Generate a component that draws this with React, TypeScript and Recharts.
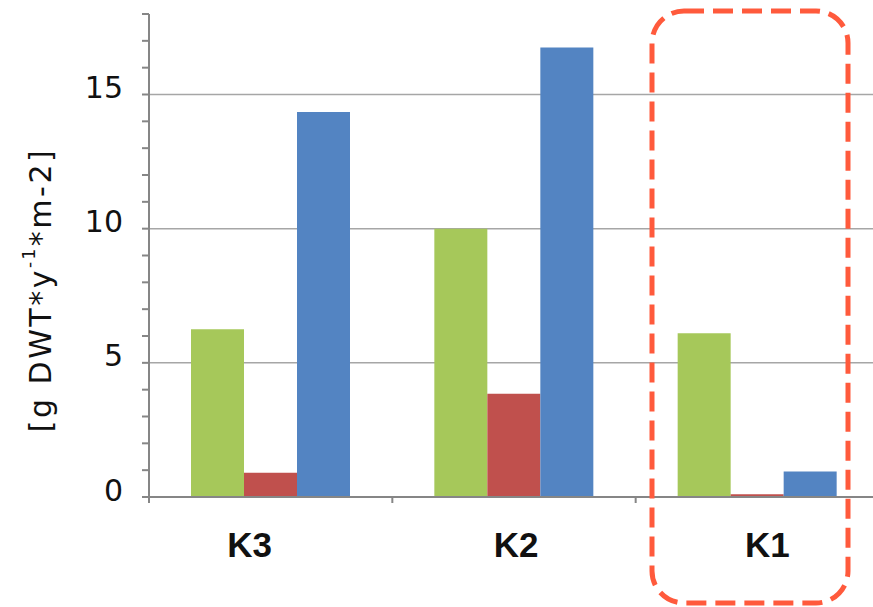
import React from "react";
import { BarChart, Bar, XAxis, YAxis, CartesianGrid } from "recharts";

// sites on the x axis
const sites = ["K3", "K2", "K1"];
// three fluxes per site, g DWT per year per m²
const greenValues = [6.25, 10.0, 6.1];
const redValues = [0.9, 3.85, 0.1];
const blueValues = [14.35, 16.75, 0.95];
// y axis: minor tick every unit, labels on every fifth
const yTicks = [0, 1, 2, 3, 4, 5, 6, 7, 8, 9, 10, 11, 12, 13, 14, 15, 16, 17, 18];
const gridValues = [5, 10, 15];

const data = sites.map((site, i) => ({
    site,
    green: greenValues[i],
    red: redValues[i],
    blue: blueValues[i],
}));

const AXIS = "#868686";
// the site labels sit a little off their band centres
const LABEL_SHIFT = [-21, 2, 10];

function YTick({ x, y, payload }: any) {
    if (payload.value % 5 !== 0) return null;
    return (
        <text
            x={x}
            y={y}
            dy={-7}
            textAnchor="end"
            dominantBaseline="central"
            fontFamily="DejaVu Sans"
            fontSize={30}
            fill="#111"
        >
            {payload.value}
        </text>
    );
}

function XTick({ x, y, payload, index }: any) {
    const left = x - (payload.offset ?? 0);
    return (
        <g>
            <line x1={left} x2={left} y1={y} y2={y + 6} stroke={AXIS} strokeWidth={2} />
            <text
                x={x + (LABEL_SHIFT[index] ?? 0)}
                y={y + 60}
                textAnchor="middle"
                fontFamily="Liberation Sans"
                fontWeight="bold"
                fontSize={35}
                fill="#111"
            >
                {payload.value}
            </text>
        </g>
    );
}

function UnitLabel() {
    const cx = 40;
    const cy = 290;
    return (
        <text
            x={cx}
            y={cy}
            transform={`rotate(-90, ${cx}, ${cy})`}
            textAnchor="middle"
            dominantBaseline="central"
            fontFamily="DejaVu Sans"
            fontSize={30}
            letterSpacing={2.5}
            fill="#111"
        >
            [g DWT*y
            <tspan dy={-11} fontSize={17}>-1</tspan>
            <tspan dy={11}>*m-2]</tspan>
        </text>
    );
}

export default function App() {
    return (
        <div style={{ position: "fixed", left: 0, top: 0, width: 873, height: 607, overflow: "hidden", background: "#fff" }}>
            <BarChart
                width={900}
                height={607}
                data={data}
                margin={{ top: 14, right: 21, left: 0, bottom: 0 }}
                barGap={0}
                barSize={53}
            >
                <CartesianGrid vertical={false} horizontalValues={gridValues} stroke="#a6a6a6" strokeWidth={1.5} />
                <XAxis
                    dataKey="site"
                    axisLine={{ stroke: AXIS, strokeWidth: 2 }}
                    tickLine={false}
                    tickSize={0}
                    tickMargin={0}
                    tick={<XTick />}
                    interval={0}
                    height={110}
                />
                <YAxis
                    width={149}
                    domain={[0, 18]}
                    ticks={yTicks}
                    interval={0}
                    axisLine={{ stroke: AXIS, strokeWidth: 2 }}
                    tickLine={{ stroke: AXIS, strokeWidth: 2 }}
                    tickSize={7}
                    tickMargin={19}
                    tick={<YTick />}
                    label={{ content: <UnitLabel /> }}
                />
                <Bar dataKey="green" fill="#a6c85a" isAnimationActive={false} />
                <Bar dataKey="red" fill="#c0504d" isAnimationActive={false} />
                <Bar dataKey="blue" fill="#5384c2" isAnimationActive={false} />
            </BarChart>
            <svg width={873} height={607} style={{ position: "absolute", left: 0, top: 0, pointerEvents: "none" }}>
                <rect
                    x={652}
                    y={11}
                    width={196}
                    height={592}
                    rx={32}
                    ry={32}
                    fill="none"
                    stroke="#ff5a3c"
                    strokeWidth={5}
                    strokeDasharray="20 9"
                />
            </svg>
        </div>
    );
}
